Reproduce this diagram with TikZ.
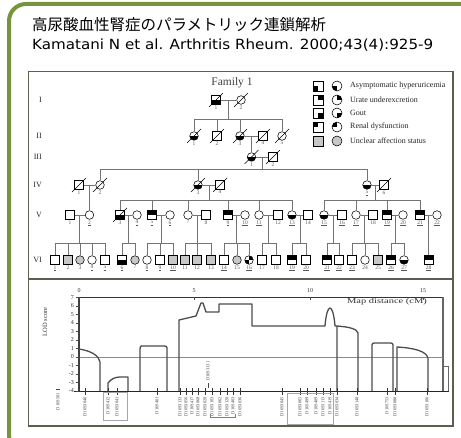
\documentclass[tikz,border=0pt]{standalone}
\usepackage{fontspec}
\setmainfont{Liberation Serif}
\newfontfamily\jpfont{Noto Sans CJK JP}
\newfontfamily\citefont{DejaVu Sans}
\usetikzlibrary{calc}
\definecolor{frameg}{HTML}{77933C}
\definecolor{boxc}{HTML}{5E5E4E}
\newcommand\pn[5]{\node[#2, label={[num]below:#5}] (#1) at (#3,#4) {};}
\newcommand\dead[1]{\draw[line width=0.55pt] ([shift={(-7,7)}]#1.center) -- ([shift={(7,-7)}]#1.center);}
\newcommand\mar[3]{\draw[conn] (#1) -- (#2); \coordinate (#3) at ($(#1)!0.5!(#2)$);}
\newcommand\sib[5]{\draw[conn] (#1) -- (#1 |- #2); \draw[conn] (#3.north |- #2) -- (#4.north |- #2); \foreach \c in {#5} {\draw[conn] (\c.north) -- (\c.north |- #2);}}
\begin{document}
\begin{tikzpicture}[x=1pt,y=-1pt,
  ps/.style={draw=black, line width=0.55pt, inner sep=0pt, minimum size=8.6pt, fill=white},
  sqr/.style={ps, rectangle},
  cir/.style={ps, circle},
  gr/.style={fill=black!22},
  hb/.style={path picture={\fill[black] (path picture bounding box.west) rectangle (path picture bounding box.south east);}},
  ht/.style={path picture={\fill[black] (path picture bounding box.north west) rectangle (path picture bounding box.east);}},
  qtl/.style={path picture={\fill[black] (path picture bounding box.center) rectangle (path picture bounding box.north west);}},
  qtr/.style={path picture={\fill[black] (path picture bounding box.center) rectangle (path picture bounding box.north east);}},
  qbl/.style={path picture={\fill[black] (path picture bounding box.center) rectangle (path picture bounding box.south west);}},
  qbr/.style={path picture={\fill[black] (path picture bounding box.center) rectangle (path picture bounding box.south east);}},
  qd/.style={path picture={\fill[black] (path picture bounding box.center) rectangle (path picture bounding box.north east); \fill[black] (path picture bounding box.center) rectangle (path picture bounding box.south west);}},
  num/.style={font=\fontsize{5.5}{6}\selectfont, text=black!65, inner sep=0.6pt},
  conn/.style={draw=black!55, line width=0.6pt},
  legt/.style={font=\fontsize{8}{9}\selectfont, text=black!85, inner sep=0pt, anchor=west},
  gen/.style={font=\fontsize{8}{9}\selectfont, text=black!85, inner sep=0pt, anchor=east},
  tick/.style={font=\fontsize{6}{7}\selectfont, text=black!80, inner sep=0.5pt},
  mk/.style={font=\fontsize{4.5}{5}\selectfont, text=black!75, inner sep=0pt, rotate=90, anchor=east},
  lod/.style={draw=black!70, line width=1.3pt, line join=round}]
\useasboundingbox (0,0) rectangle (461,438);
\fill[white] (0,0) rectangle (461,438);
% green frame
\draw[frameg, line width=4pt, rounded corners=17pt] (480,4) -- (9,4) -- (9,452) -- (480,452);
% titles
\node[anchor=base west, inner sep=0pt, font=\jpfont\fontsize{15.5}{18}\selectfont] (title) at (32,31) {高尿酸血性腎症のパラメトリック連鎖解析};
\node[anchor=base west, inner sep=0pt, font=\citefont\fontsize{14}{16}\selectfont, xscale=1.08] (cite) at (32,49.5) {Kamatani N et al. Arthritis Rheum. 2000;43(4):925-9};
% figure box
\draw[boxc, line width=1.3pt] (28.5,71.5) rectangle (453,426);
\draw[boxc, line width=1.3pt] (28.5,279) -- (453,279);
% generation labels
\node[gen] (gI) at (42,100) {I};
\node[gen] (gII) at (42,136) {II};
\node[gen] (gIII) at (42,157) {III};
\node[gen] (gIV) at (42,185) {IV};
\node[gen] (gV) at (42,215) {V};
\node[gen] (gVI) at (42,260) {VI};
\node[font=\fontsize{11.5}{12}\selectfont, text=black!75] (fam) at (232,83) {Family 1};
% legend
\node[sqr, minimum size=10pt, qbl] (L1s) at (318,86) {}; \node[cir, minimum size=10pt, qbl] (L1c) at (337,86) {};
\node[legt] (L1t) at (350,86) {Asymptomatic hyperuricemia};
\node[sqr, minimum size=10pt, qtr] (L2s) at (318,100) {}; \node[cir, minimum size=10pt, qtr] (L2c) at (337,100) {};
\node[legt] (L2t) at (350,100) {Urate underexcretion};
\node[sqr, minimum size=10pt, qbr] (L3s) at (318,113) {}; \node[cir, minimum size=10pt, qbr] (L3c) at (337,113) {};
\node[legt] (L3t) at (350,113) {Gout};
\node[sqr, minimum size=10pt, qtl] (L4s) at (318,127) {}; \node[cir, minimum size=10pt, qtl] (L4c) at (337,127) {};
\node[legt] (L4t) at (350,127) {Renal dysfunction};
\node[sqr, minimum size=10pt, gr] (L5s) at (318,141) {}; \node[cir, minimum size=10pt, gr] (L5c) at (337,141) {};
\node[legt] (L5t) at (350,141) {Unclear affection status};
% Generation I
\pn{I1}{sqr,hb}{216}{100}{1} \pn{I2}{cir}{241}{100}{2}
\mar{I1}{I2}{mI}
\coordinate (sII) at (0,119);
% Generation II
\pn{II1}{cir,hb}{194}{136}{1} \pn{II2}{sqr}{217}{136}{2} \pn{II3}{cir,hb}{240}{136}{3}
\pn{II4}{sqr}{263}{136}{4} \pn{II5}{cir}{282}{136}{5}
\sib{mI}{sII}{II1}{II5}{II1,II2,II3,II5}
\mar{II3}{II4}{mII}
% Generation III
\pn{III1}{cir,hb}{251.5}{157}{1} \pn{III2}{sqr}{273}{157}{2}
\draw[conn] (mII) -- (III1.north);
\mar{III1}{III2}{mIII}
\coordinate (sIV) at (0,169);
% Generation IV
\pn{IV1}{sqr}{79}{185}{1} \pn{IV2}{cir}{100}{185}{2}
\pn{IV3}{cir,hb}{198}{185}{3} \pn{IV4}{sqr}{220}{185}{4}
\pn{IV5}{cir,hb}{367}{185}{\underline{5}} \pn{IV6}{sqr}{384}{185}{6}
\sib{mIII}{sIV}{IV2}{IV5}{IV2,IV3,IV5}
\mar{IV1}{IV2}{mIVa}
\mar{IV3}{IV4}{mIVb}
\mar{IV5}{IV6}{mIVc}
\coordinate (sV) at (0,200);
% Generation V
\pn{V1}{sqr}{70}{215}{1} \pn{V2}{cir}{89.5}{215}{\underline{2}}
\pn{V3}{sqr,hb}{120}{215}{3} \pn{V4}{cir}{137}{215}{\underline{4}}
\pn{V5}{sqr,ht}{152}{215}{\underline{5}} \pn{V6}{cir}{170}{215}{\underline{6}}
\pn{V7}{cir}{188}{215}{7} \pn{V8}{sqr}{206}{215}{8}
\pn{V9}{sqr,ht}{228}{215}{\underline{9}} \pn{V10}{cir}{245}{215}{\underline{10}}
\pn{V11}{cir}{259}{215}{\underline{11}} \pn{V12}{sqr}{278}{215}{12}
\pn{V13}{cir,hb}{292}{215}{\underline{13}} \pn{V14}{sqr}{308}{215}{14}
\pn{V15}{cir,hb}{324}{215}{\underline{15}} \pn{V16}{sqr}{342}{215}{\underline{16}}
\pn{V17}{cir}{356}{215}{\underline{17}} \pn{V18}{sqr}{373}{215}{18}
\pn{V19}{sqr,ht}{387}{215}{\underline{19}} \pn{V20}{cir}{403}{215}{\underline{20}}
\pn{V21}{sqr,ht}{420}{215}{\underline{21}} \pn{V22}{cir}{437}{215}{\underline{22}}
\draw[conn] (mIVa) -- (V2.north);
\sib{mIVb}{sV}{V3}{V13}{V3,V5,V7,V9,V11,V13}
\sib{mIVc}{sV}{V15}{V21}{V15,V17,V19,V21}
\mar{V1}{V2}{m1} \mar{V3}{V4}{m2} \mar{V5}{V6}{m3} \mar{V7}{V8}{m4}
\mar{V9}{V10}{m5} \mar{V11}{V12}{m6} \mar{V13}{V14}{m7} \mar{V15}{V16}{m8}
\mar{V17}{V18}{m9} \mar{V19}{V20}{m10} \mar{V21}{V22}{m11}
\coordinate (sVI) at (0,243);
% Generation VI
\pn{VI1}{sqr}{55}{260}{\underline{1}} \pn{VI2}{sqr,gr}{68}{260}{2} \pn{VI3}{cir,gr}{80}{260}{3}
\pn{VI4}{cir}{92}{260}{\underline{4}} \pn{VI5}{sqr}{105}{260}{\underline{5}}
\pn{VI6}{sqr,hb}{122}{260}{\underline{6}} \pn{VI7}{cir,gr}{135}{260}{7}
\pn{VI8}{cir}{147}{260}{\underline{8}} \pn{VI9}{sqr}{160}{260}{\underline{9}} \pn{VI10}{sqr,gr}{173}{260}{\underline{10}}
\pn{VI11}{sqr,gr}{185}{260}{11} \pn{VI12}{sqr,gr}{197}{260}{12} \pn{VI13}{sqr,gr}{211}{260}{13}
\pn{VI14}{sqr}{224}{260}{\underline{14}} \pn{VI15}{cir,gr}{237}{260}{15} \pn{VI16}{cir,qd}{249}{260}{\underline{16}}
\pn{VI17}{sqr}{262}{260}{17} \pn{VI18}{sqr}{276}{260}{18}
\pn{VI19}{sqr,ht}{292}{260}{\underline{19}} \pn{VI20}{sqr}{306}{260}{\underline{20}}
\pn{VI21}{sqr,ht}{327}{260}{\underline{21}} \pn{VI22}{sqr}{339}{260}{\underline{22}}
\pn{VI23}{sqr}{352}{260}{\underline{23}} \pn{VI24}{cir}{365}{260}{24} \pn{VI25}{sqr,gr}{378}{260}{25}
\pn{VI26}{sqr,ht}{391}{260}{\underline{26}} \pn{VI27}{cir,hb}{404}{260}{\underline{27}}
\pn{VI28}{sqr,ht}{428.5}{260}{\underline{28}}
\sib{m1}{sVI}{VI1}{VI5}{VI1,VI2,VI3,VI4,VI5}
\sib{m2}{sVI}{VI6}{VI7}{VI6,VI7}
\sib{m3}{sVI}{VI8}{VI10}{VI8,VI9,VI10}
\sib{m4}{sVI}{VI11}{VI13}{VI11,VI12,VI13}
\sib{m5}{sVI}{VI14}{VI16}{VI14,VI15,VI16}
\sib{m6}{sVI}{VI17}{VI18}{VI17,VI18}
\sib{m7}{sVI}{VI19}{VI20}{VI19,VI20}
\sib{m8}{sVI}{VI21}{VI22}{VI21,VI22}
\sib{m9}{sVI}{VI23}{VI25}{VI23,VI24,VI25}
\sib{m10}{sVI}{VI26}{VI27}{VI26,VI27}
\draw[conn] (m11) -- (VI28.north);
% deceased slashes
\foreach \d in {I1,I2,II1,II2,II3,II4,II5,III1,III2,IV1,IV2,IV3,IV4,IV6,V3} {\dead{\d}}
% ---------------- LOD plot ----------------
\draw[black!80, line width=0.7pt] (79,297) -- (443,297);
\draw[black!60, line width=1.3pt] (443,297) -- (443,391);
\draw[black!45, line width=0.5pt] (79,357) -- (443,357);
\draw[black!75, line width=1.6pt] (79,297) -- (79,391);
\draw[black!85, line width=0.9pt] (74,391) -- (449,391);
\foreach \v in {7,6,...,-4} {\draw[black!70, line width=0.5pt] (75.5,{357-8.5*\v}) -- (79,{357-8.5*\v}); \node[tick, anchor=east] at (74.5,{357-8.5*\v}) {\v};}
\foreach \c/\xx in {0/79,5/194,10/310,15/423} {\draw[black!70, line width=0.5pt] (\xx,297) -- (\xx,300); \node[tick] at (\xx,290.5) {\c};}
\node[tick, rotate=90, font=\fontsize{6.5}{7}\selectfont] (lodlab) at (45,322) {LOD score};
\node[tick, font=\fontsize{7.5}{8}\selectfont, xscale=1.4] (maplab) at (387,302) {Map distance (cM)};
% curve
\draw[lod] (79,349) .. controls (92,351) and (99,356) .. (100,362) -- (100,391);
\draw[lod] (108,391) -- (108,383) .. controls (111,379) and (115,377) .. (120,377) -- (128,377) -- (128,391);
\draw[lod] (140,391) -- (140,349) .. controls (140,346) .. (144,346) -- (162,346) .. controls (167,346) .. (167,350) -- (167,391);
\draw[lod] (179,391) -- (179,320) -- (196,316) -- (201,303) -- (203,303) -- (206,312) -- (219,312) -- (219,304) -- (252,304) -- (252,326) -- (325,326) .. controls (327,302) and (333,302) .. (335,326) -- (337,326) -- (337,391);
\draw[lod] (337,326) .. controls (350,327) and (357,329) .. (358,333) -- (358,391);
\draw[lod] (372,391) -- (372,347) .. controls (372,343) .. (377,343) -- (388,343) .. controls (393,343) .. (393,347) -- (393,391);
\draw[lod] (397,391) -- (397,347) .. controls (414,348) and (426,351) .. (428,358) -- (428,391);
\draw[black!60, line width=0.6pt] (443,366) -- (448,366) -- (448,391);
% markers
\foreach \xx/\n in {85/D16S3046, 108/D16S412, 117/D16S3041, 157/D16S401, 180/D16S3133, 186/D16S3056, 192/D16S417, 198/D16S3068, 205/D16S3020, 212/D16S3103, 220/D16S3062, 227/D16S3120, 233/D16S403, 240/D16S3036, 282/D16S3045, 300/D16S3065, 307/D16S499, 316/D16S409, 323/D16S3113, 330/D16S419, 337/D16S3034, 357/D16S3140, 387/D16S753, 395/D16S3080, 427/D16S3106}
  {\draw[black!80, line width=0.6pt] (\xx,388) -- (\xx,395); \node[mk] at (\xx,397) {\n};}
\node[mk] (mk0) at (58,393) {D16S501};
\draw[black!70, line width=0.6pt] (56,389) -- (60,389);
\node[mk, anchor=west] (mkup) at (208,381) {D16S3131};
\draw[black!70, line width=0.5pt] (208,383) -- (208,388);
\draw[black!35, line width=0.5pt] (103,392) rectangle (127,420);
\draw[black!35, line width=0.5pt] (287,393) rectangle (333,424);
\draw[black!50, line width=0.5pt] (210,414) -- (210,417) -- (235,417) -- (235,414);
\end{tikzpicture}
\end{document}
